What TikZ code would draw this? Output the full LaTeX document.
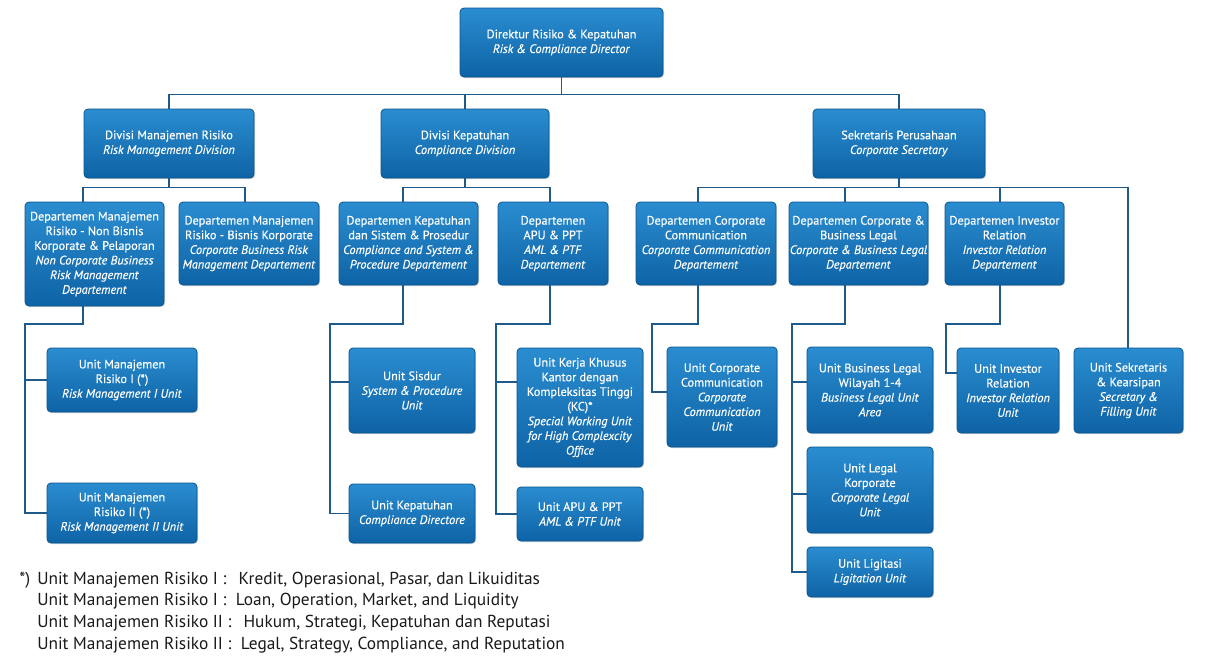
\documentclass[tikz,border=0pt]{standalone}
\usepackage{fontspec}
\setmainfont{PT Sans}
\newfontfamily\boxfont[FakeBold=0.35]{PT Sans}
\usetikzlibrary{shadows}
\definecolor{boxA}{HTML}{2A8DD0}
\definecolor{boxB}{HTML}{0E63A5}
\definecolor{boxE}{HTML}{0B5691}
\definecolor{lineC}{HTML}{1E5A8A}
\definecolor{noteC}{HTML}{1A1A1A}
\newcommand{\orgbox}[6]{\node[orgbox, minimum width={(#4-#2)*0.75pt}, minimum height={(#5-#3)*0.75pt}] (#1) at ({(#2+#4)/2},{(#3+#5)/2}) {#6};}
\begin{document}
\begin{tikzpicture}[x=0.75pt,y=-0.75pt,
 orgbox/.style={draw=boxE, line width=0.6pt, rounded corners=3pt, top color=boxA, bottom color=boxB, text=white, align=center, inner sep=0pt, font=\boxfont\fontsize{9.2}{11}\selectfont, drop shadow={shadow xshift=0.8pt, shadow yshift=-0.8pt, fill=black!50, opacity=0.35}},
 conn/.style={draw=lineC, line width=1.2pt},
 note/.style={anchor=base west, inner sep=0pt, text=noteC, font=\fontsize{13}{15}\selectfont}]
\useasboundingbox (0,0) rectangle (1208,662);
\fill[white] (0,0) rectangle (1208,662);

% boxes
\orgbox{top}{460}{8}{663}{77}{Direktur Risiko \& Kepatuhan\\ \textit{Risk \& Compliance Director}}
\orgbox{div1}{84}{109}{254}{178}{Divisi Manajemen Risiko\\ \textit{Risk Management Division}}
\orgbox{div2}{381}{109}{549}{178}{Divisi Kepatuhan\\ \textit{Compliance Division}}
\orgbox{div3}{813}{109}{985}{178}{Sekretaris Perusahaan\\ \textit{Corporate Secretary}}
\orgbox{dept1}{25}{202}{164}{306}{Departemen Manajemen\\ Risiko - Non Bisnis\\ Korporate \& Pelaporan\\ \textit{Non Corporate Business}\\ \textit{Risk Management}\\ \textit{Departement}}
\orgbox{dept2}{179}{202}{319}{285}{Departemen Manajemen\\ Risiko - Bisnis Korporate\\ \textit{Corporate Business Risk}\\ \textit{Management Departement}}
\orgbox{dept3}{339}{202}{478}{285}{Departemen Kepatuhan\\ dan Sistem \& Prosedur\\ \textit{Compliance and System \&}\\ \textit{Procedure Departement}}
\orgbox{dept4}{498}{202}{608}{285}{Departemen\\ APU \& PPT\\ \textit{AML \& PTF}\\ \textit{Departement}}
\orgbox{dept5}{636}{202}{776}{285}{Departemen Corporate\\ Communication\\ \textit{Corporate Communication}\\ \textit{Departement}}
\orgbox{dept6}{789}{202}{928}{285}{Departemen Corporate \&\\ Business Legal\\ \textit{Corporate \& Business Legal}\\ \textit{Departement}}
\orgbox{dept7}{945}{202}{1064}{285}{Departemen Investor\\ Relation\\ \textit{Investor Relation}\\ \textit{Departement}}
\orgbox{rm1}{47}{348}{197}{412}{Unit Manajemen\\ Risiko I (*)\\ \textit{Risk Management I Unit}}
\orgbox{rm2}{47}{483}{197}{543}{Unit Manajemen\\ Risiko II (*)\\ \textit{Risk Management II Unit}}
\orgbox{sisdur}{349}{348}{475}{433}{Unit Sisdur\\ \textit{System \& Procedure}\\ \textit{Unit}}
\orgbox{kep}{349}{484}{475}{543}{Unit Kepatuhan\\ \textit{Compliance Directore}}
\orgbox{kc}{517}{348}{643}{467}{Unit Kerja Khusus\\ Kantor dengan\\ Kompleksitas Tinggi\\ (KC)*\\ \textit{Special Working Unit}\\ \textit{for High Complexcity}\\ \textit{Office}}
\orgbox{apu}{517}{487}{643}{541}{Unit APU \& PPT\\ \textit{AML \& PTF Unit}}
\orgbox{cc}{667}{347}{777}{447}{Unit Corporate\\ Communication\\ \textit{Corporate}\\ \textit{Communication}\\ \textit{Unit}}
\orgbox{ubl}{807}{347}{933}{433}{Unit Business Legal\\ Wilayah 1-4\\ \textit{Business Legal Unit}\\ \textit{Area}}
\orgbox{ulk}{807}{447}{933}{533}{Unit Legal\\ Korporate\\ \textit{Corporate Legal}\\ \textit{Unit}}
\orgbox{ulit}{807}{547}{933}{597}{Unit Ligitasi\\ \textit{Ligitation Unit}}
\orgbox{uir}{957}{348}{1059}{433}{Unit Investor\\ Relation\\ \textit{Investor Relation}\\ \textit{Unit}}
\orgbox{usk}{1074}{348}{1183}{433}{Unit Sekretaris\\ \& Kearsipan\\ \textit{Secretary \&}\\ \textit{Filling Unit}}

% connectors
\draw[conn] (top.south) -- ++(0,18);
\draw[conn] (div1.north) -- ++(0,-14) -| (div3.north);
\draw[conn] (div2.north) -- ++(0,-14);
\draw[conn] (div1.south) -- ++(0,10);
\draw[conn] (83,0 |- dept1.north) -- ++(0,-14) -| (245,0 |- dept2.north);
\draw[conn] (div2.south) -- ++(0,10);
\draw[conn] (403,0 |- dept3.north) -- ++(0,-14) -| (550,0 |- dept4.north);
\draw[conn] (div3.south) -- ++(0,10);
\draw[conn] (698,0 |- dept5.north) -- ++(0,-14) -| (1128,0 |- usk.north);
\draw[conn] (845,188) -- (845,0 |- dept6.north);
\draw[conn] (1000,188) -- (1000,0 |- dept7.north);
\draw[conn] (83,0 |- dept1.south) |- (25,324) |- (rm1.west);
\draw[conn] (25,324) |- (rm2.west);
\draw[conn] (403,0 |- dept3.south) |- (330,324) |- (sisdur.west |- 0,382);
\draw[conn] (330,324) |- (kep.west);
\draw[conn] (550,0 |- dept4.south) |- (496,324) |- (kc.west |- 0,382);
\draw[conn] (496,324) |- (apu.west);
\draw[conn] (698,0 |- dept5.south) |- (652,324) |- (cc.west |- 0,392);
\draw[conn] (845,0 |- dept6.south) |- (792,324) |- (ubl.west |- 0,382);
\draw[conn] (792,324) |- (ulk.west |- 0,494);
\draw[conn] (792,324) |- (ulit.west);
\draw[conn] (1000,0 |- dept7.south) |- (946,324) |- (uir.west |- 0,373);

% footnote
\node[note] (n0) at (19,584) {*)};
\node[note] (n1) at (37,584) {Unit Manajemen Risiko I :\hspace{0.7em}Kredit, Operasional, Pasar, dan Likuiditas};
\node[note] (n2) at (37,605) {Unit Manajemen Risiko I :\hspace{0.55em}Loan, Operation, Market, and Liquidity};
\node[note] (n3) at (37,627) {Unit Manajemen Risiko II :\hspace{0.7em}Hukum, Strategi, Kepatuhan dan Reputasi};
\node[note] (n4) at (37,649) {Unit Manajemen Risiko II :\hspace{0.55em}Legal, Strategy, Compliance, and Reputation};
\end{tikzpicture}
\end{document}
